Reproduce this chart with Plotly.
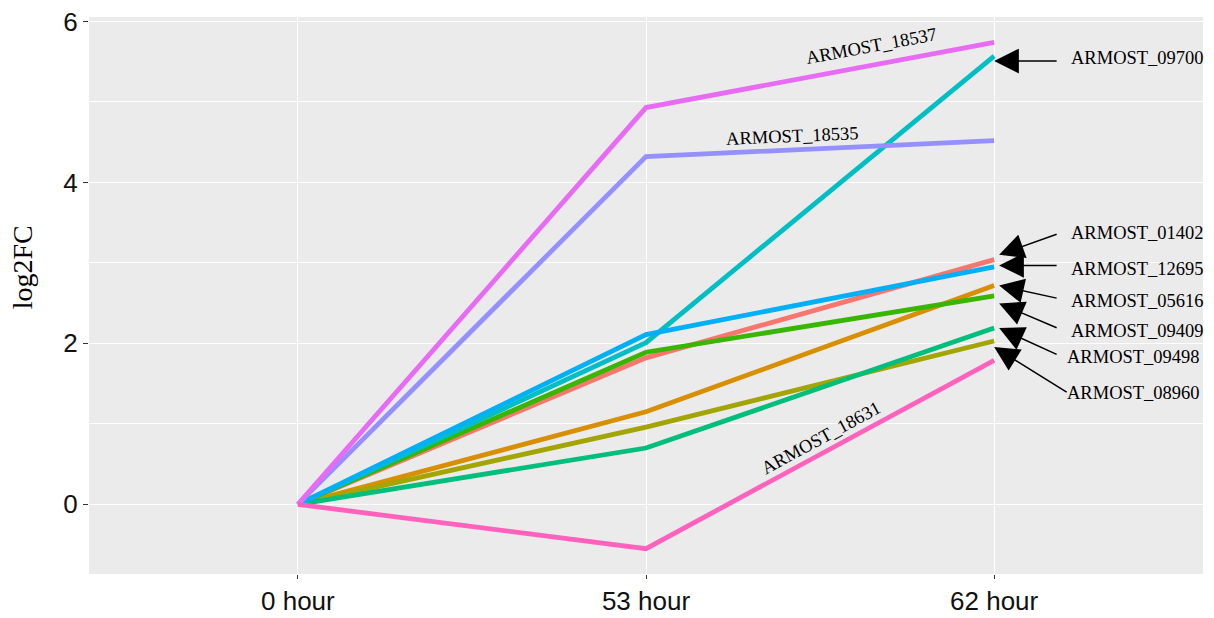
import plotly.graph_objects as go

# ---- data ----
time_points = ["0 hour", "53 hour", "62 hour"]
genes = ["ARMOST_01402", "ARMOST_05616", "ARMOST_08960", "ARMOST_09409", "ARMOST_09498",
         "ARMOST_09700", "ARMOST_12695", "ARMOST_18535", "ARMOST_18537", "ARMOST_18631"]
log2fc_0h = [0, 0, 0, 0, 0, 0, 0, 0, 0, 0]
log2fc_53h = [1.82, 1.15, 0.96, 1.89, 0.70, 2.01, 2.11, 4.32, 4.93, -0.55]
log2fc_62h = [3.04, 2.72, 2.03, 2.59, 2.19, 5.57, 2.95, 4.52, 5.74, 1.79]

colors = ["#F8766D", "#D89000", "#A3A500", "#39B600", "#00BF7D",
          "#00BFC4", "#00B0F6", "#9590FF", "#E76BF3", "#FF62BC"]

fig = go.Figure()
for i, g in enumerate(genes):
    fig.add_trace(go.Scatter(
        x=time_points, y=[log2fc_0h[i], log2fc_53h[i], log2fc_62h[i]],
        mode="lines", name=g, line=dict(color=colors[i], width=4.8),
        showlegend=False))

serif = "Liberation Serif, Times New Roman, serif"
ann = []

# labels along the lines: (gene, x, y, angle)
inline_labels = [("ARMOST_18537", 1.649, 5.70, -10.5),
                 ("ARMOST_18535", 1.422, 4.58, -2.5),
                 ("ARMOST_18631", 1.503, 0.82, -28.5)]
for txt, x, y, a in inline_labels:
    ann.append(dict(x=x, y=y, xref="x", yref="y", text=txt, showarrow=False,
                    textangle=a, font=dict(family=serif, size=18.5, color="black"),
                    xanchor="center", yanchor="middle"))

# arrow labels: gene, arrow tail offset (ax, ay), head shift (xs, ys), text pos (x, y)
arrow_labels = [("ARMOST_09700", 64, 0, 0, -5, 2.215, 5.54),
                ("ARMOST_01402", 59, -21, 5, 5, 2.215, 3.37),
                ("ARMOST_12695", 59, 0, 5, 1.5, 2.215, 2.93),
                ("ARMOST_05616", 59, 13, 5, 0, 2.215, 2.53),
                ("ARMOST_09409", 59, 25, 5, -7.5, 2.215, 2.15),
                ("ARMOST_09498", 59, 27, 5, 0, 2.204, 1.83),
                ("ARMOST_08960", 74, 46, 0, -6, 2.204, 1.38)]
for g, axo, ayo, xs, ys, tx, ty in arrow_labels:
    idx = genes.index(g)
    ann.append(dict(x=2, y=log2fc_62h[idx], xref="x", yref="y", text="",
                    showarrow=True, ax=axo, ay=ayo, axref="pixel", ayref="pixel",
                    xshift=xs, yshift=ys, arrowhead=2, arrowsize=3.3, arrowwidth=1.5,
                    arrowcolor="black", standoff=0))
    ann.append(dict(x=tx, y=ty, xref="x", yref="y", text=g, showarrow=False,
                    xanchor="left", yanchor="middle",
                    font=dict(family=serif, size=18.5, color="black")))

# y-axis title
ann.append(dict(x=-0.060, y=0.551, xref="paper", yref="paper", text="log2FC",
                showarrow=False, textangle=-90, xanchor="center", yanchor="middle",
                font=dict(family=serif, size=28, color="black")))

sans = "Liberation Sans, Arial, sans-serif"
fig.update_layout(
    width=1214, height=618,
    margin=dict(l=89, r=11, t=17, b=44, autoexpand=False),
    paper_bgcolor="white", plot_bgcolor="#EBEBEB",
    annotations=ann,
    xaxis=dict(type="category", range=[-0.6, 2.6], showgrid=True, gridcolor="white",
               gridwidth=1.3, zeroline=False, ticks="outside", ticklen=4, tickwidth=1.2,
               tickcolor="#333333", showline=False, automargin=False,
               tickfont=dict(family=sans, size=26, color="#111111")),
    yaxis=dict(range=[-0.865, 6.055], dtick=2, tick0=0, showgrid=True, gridcolor="white",
               gridwidth=1.3, zeroline=False, ticks="outside", ticklen=5, tickwidth=1.2,
               tickcolor="#333333", showline=False, automargin=False,
               tickfont=dict(family=sans, size=26, color="#111111"),
               minor=dict(dtick=1, tick0=0, showgrid=True, gridcolor="white", gridwidth=0.6)),
)

fig.write_html("out.html")
